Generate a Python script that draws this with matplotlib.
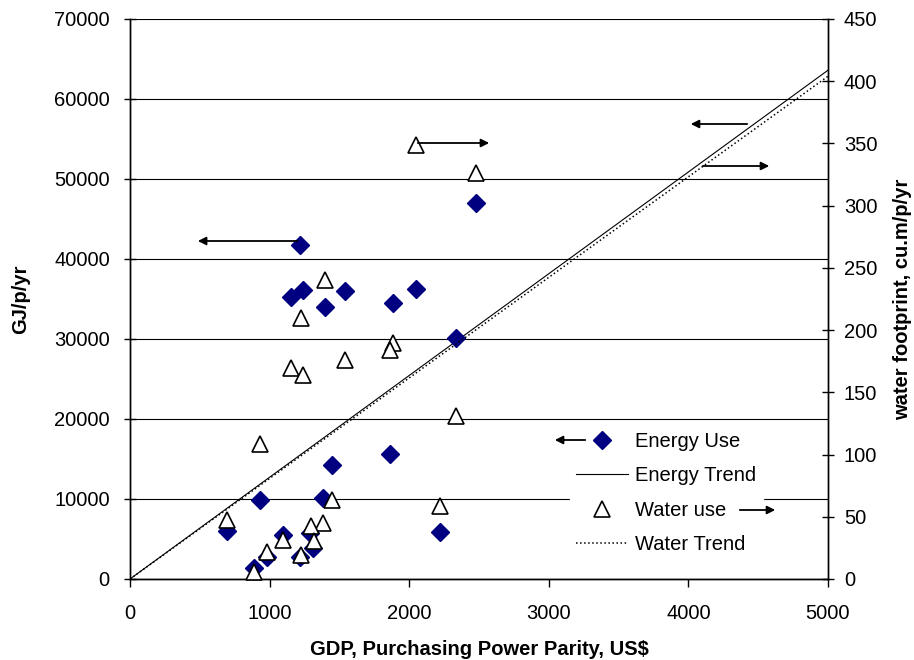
import matplotlib
matplotlib.use("Agg")
import matplotlib.pyplot as plt
from matplotlib.lines import Line2D

plt.rcParams['font.family'] = ['Liberation Sans', 'DejaVu Sans']

# energy use, GJ/p/yr vs GDP (PPP, US$)
energy_gdp = [1218, 1152, 1241, 1397, 1540, 1882, 2046, 2478, 2335, 1862, 1445,
              931, 1385, 697, 1093, 1289, 1313, 979, 1218, 891, 2220]
energy_use = [41750, 35250, 36125, 34040, 36000, 34460, 36250, 47000, 30160, 15590, 14250,
              9875, 10080, 6000, 5500, 5700, 3830, 2800, 2700, 1400, 5900]

# water footprint, cu.m/p/yr vs GDP
water_gdp = [2046, 2478, 1397, 1222, 1882, 1862, 1540, 1153, 1242, 2335, 931,
             1445, 697, 1385, 1297, 1093, 1318, 979, 1222, 891, 2220]
water_use = [349, 326.5, 240, 209.5, 189.4, 184, 176, 169.3, 164, 131, 108.5,
             63.5, 47.4, 44.7, 42.6, 31.3, 30.8, 22, 19.3, 5.9, 58.7]

# trend lines (through origin), slopes
trend_x = [0, 5000]
energy_slope = 12.72
water_slope = 0.0808

fs = 14.5

fig = plt.figure(figsize=(9.14, 6.60), dpi=100)
ax = fig.add_axes([130/914, 1 - 579/660, 698/914, 560/660])
ax2 = ax.twinx()

ax.set_xlim(0, 5000)
ax.set_ylim(0, 70000)
ax2.set_ylim(0, 450)
ax.set_xticks(range(0, 5001, 1000))
ax.set_yticks(range(0, 70001, 10000))
ax2.set_yticks(range(0, 451, 50))

ax.set_axisbelow(True)
ax.yaxis.grid(True, color='black', lw=0.8)

ax.plot(energy_gdp, energy_use, 'D', color='#000080', ms=9, mec='#000080', zorder=3)
ax.plot(trend_x, [v * energy_slope for v in trend_x], '-', color='black', lw=0.8, zorder=2)

ax2.plot(water_gdp, water_use, '^', mfc='white', mec='black', mew=1.2, ms=11, zorder=4,
         clip_on=False)
ax2.plot(trend_x, [v * water_slope for v in trend_x], ':', color='black', lw=1.1, zorder=2)

for a in (ax, ax2):
    a.spines['top'].set_visible(False)
    a.spines['left'].set_linewidth(1)
    a.spines['right'].set_linewidth(1)
    a.spines['bottom'].set_linewidth(1)
ax.tick_params(axis='y', direction='inout', length=9, width=1, labelsize=fs, pad=10)
ax.tick_params(axis='x', direction='out', length=6, width=1, labelsize=fs, pad=12)
ax2.tick_params(axis='y', direction='inout', length=9, width=1, labelsize=fs, pad=7)

ax.set_xlabel('GDP, Purchasing Power Parity, US$', fontsize=fs, fontweight='bold', labelpad=12.5)
ax.set_ylabel('GJ/p/yr', fontsize=fs, fontweight='bold', labelpad=17)
ax2.set_ylabel('water footprint, cu.m/p/yr', fontsize=fs, fontweight='bold', labelpad=11.5)

handles = [
    Line2D([], [], marker='D', ls='none', color='#000080', ms=9),
    Line2D([], [], color='black', lw=0.8),
    Line2D([], [], marker='^', ls='none', mfc='white', mec='black', mew=1.2, ms=11),
    Line2D([], [], color='black', lw=1.1, ls=':'),
]
labels = ['Energy Use', 'Energy Trend', 'Water use', 'Water Trend']
leg = ax2.legend(handles, labels, loc='upper left', bbox_to_anchor=(0.616, 0.291),
                 frameon=True, fancybox=False, edgecolor='white', facecolor='white',
                 framealpha=1, fontsize=fs, handlelength=2.6, handletextpad=0.35,
                 labelspacing=0.76, borderpad=0.3)
leg.set_zorder(5)

arrow = dict(arrowstyle='-|>', color='black', lw=1.3, mutation_scale=12)
arrows = [((1218, 42250), (466, 42250)),
          ((2042, 54500), (2593, 54500)),
          ((4441, 56875), (3997, 56875)),
          ((4083, 51625), (4599, 51625)),
          ((3281, 17375), (3023, 17375)),
          ((4348, 8625), (4642, 8625))]
for start, end in arrows:
    ann = ax2.annotate('', xy=end, xytext=start, xycoords=ax.transData,
                       textcoords=ax.transData, arrowprops=arrow)
    ann.set_zorder(10)

fig.savefig('out.png', dpi=100)
